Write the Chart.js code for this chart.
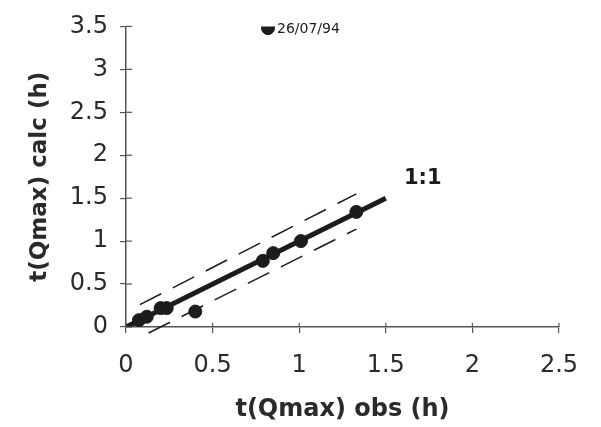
<!DOCTYPE html>
<html>
<head>
<meta charset="utf-8">
<script src="https://cdn.jsdelivr.net/npm/chart.js@4"></script>
<style>
  body { margin: 0; background: #fff; }
  #wrap { width: 601px; height: 427px; }
</style>
</head>
<body>
<div id="wrap"><canvas id="scatterChart"></canvas></div>
<script>
// observed vs calculated time of peak discharge (h)
const obsX = [0.075, 0.12, 0.2, 0.235, 0.40, 0.79, 0.85, 1.01, 1.33];
const calcY = [0.08, 0.12, 0.22, 0.22, 0.18, 0.77, 0.86, 1.0, 1.34];
const outlierX = [0.82];
const outlierY = [3.48];
const outlierLabel = '26/07/94';
const lineX = [0, 1.5];
const lineY = [0, 1.5];
const upperX = [0.08, 1.33];
const upperY = [0.26, 1.55];
const lowerX = [0.13, 1.33];
const lowerY = [-0.07, 1.14];
const xTicks = [0, 0.5, 1, 1.5, 2, 2.5];
const yTicks = [0, 0.5, 1, 1.5, 2, 2.5, 3, 3.5];

const ink = '#1c1c1c';
const axisColor = '#555';

function pts(xs, ys) {
    return xs.map((x, i) => ({ x: x, y: ys[i] }));
}

// short tick marks on the inner side of the axes + text labels
const extras = {
    id: 'extras',
    afterDraw(chart) {
        const ctx = chart.ctx;
        const xs = chart.scales.x, ys = chart.scales.y;
        ctx.save();
        ctx.strokeStyle = axisColor;
        ctx.lineWidth = 1.2;
        xTicks.forEach(v => {
            const px = xs.getPixelForValue(v);
            ctx.beginPath();
            ctx.moveTo(px, ys.bottom);
            ctx.lineTo(px, ys.bottom - 4);
            ctx.stroke();
        });
        yTicks.forEach(v => {
            const py = ys.getPixelForValue(v);
            ctx.beginPath();
            ctx.moveTo(xs.left, py);
            ctx.lineTo(xs.left + 6, py);
            ctx.stroke();
        });

        // date label next to the outlier
        const om = chart.getDatasetMeta(1).data[0];
        ctx.fillStyle = ink;
        ctx.font = '14px "DejaVu Sans"';
        ctx.textBaseline = 'middle';
        ctx.textAlign = 'left';
        ctx.fillText(outlierLabel, om.x + 9, om.y + 1);

        // 1:1 label near the end of the line
        const lm = chart.getDatasetMeta(2).data[1];
        ctx.font = 'bold 21px "DejaVu Sans"';
        ctx.textAlign = 'center';
        ctx.fillText('1:1', lm.x + 37, lm.y - 20);
        ctx.restore();
    }
};

const ctx = document.getElementById('scatterChart').getContext('2d');
const chart = new Chart(ctx, {
    type: 'scatter',
    data: {
        datasets: [{
            label: 'events',
            data: pts(obsX, calcY),
            backgroundColor: ink,
            borderColor: ink,
            pointRadius: 6.5,
            order: 0
        }, {
            label: outlierLabel,
            data: pts(outlierX, outlierY),
            backgroundColor: ink,
            borderColor: ink,
            pointRadius: 6.5,
            order: 0
        }, {
            label: '1:1',
            type: 'line',
            data: pts(lineX, lineY),
            borderColor: ink,
            borderWidth: 5,
            pointRadius: 0,
            order: 1
        }, {
            label: 'upper',
            type: 'line',
            data: pts(upperX, upperY),
            borderColor: ink,
            borderWidth: 1.5,
            borderDash: [24, 13],
            pointRadius: 0,
            order: 2
        }, {
            label: 'lower',
            type: 'line',
            data: pts(lowerX, lowerY),
            borderColor: ink,
            borderWidth: 1.5,
            borderDash: [24, 13],
            pointRadius: 0,
            clip: false,
            order: 2
        }]
    },
    options: {
        responsive: true,
        maintainAspectRatio: false,
        animation: false,
        layout: { padding: { top: 24, right: 42, bottom: 3, left: 0 } },
        plugins: {
            legend: { display: false },
            tooltip: { enabled: false }
        },
        scales: {
            x: {
                type: 'linear',
                min: 0,
                max: 2.5,
                afterFit: s => { s.height = 97; },
                afterBuildTicks: s => { s.ticks = xTicks.map(v => ({ value: v })); },
                ticks: {
                    autoSkip: false,
                    maxRotation: 0,
                    padding: 18,
                    color: '#2a2a2a',
                    font: { family: 'DejaVu Sans', size: 24 },
                    callback: v => String(v)
                },
                grid: { drawOnChartArea: false, drawTicks: true, tickLength: 6, color: axisColor, lineWidth: 1.2 },
                border: { display: true, color: axisColor, width: 1.5 },
                title: {
                    display: true,
                    text: 't(Qmax) obs (h)',
                    color: '#2a2a2a',
                    padding: { top: 0, bottom: 0 },
                    font: { family: 'DejaVu Sans', size: 24, weight: 'bold' }
                }
            },
            y: {
                type: 'linear',
                min: 0,
                max: 3.5,
                afterFit: s => { s.width = 126; },
                afterBuildTicks: s => { s.ticks = yTicks.map(v => ({ value: v })); },
                ticks: {
                    autoSkip: false,
                    padding: 12,
                    color: '#2a2a2a',
                    font: { family: 'DejaVu Sans', size: 24 },
                    callback: v => String(v)
                },
                grid: { drawOnChartArea: false, drawTicks: true, tickLength: 6, color: axisColor, lineWidth: 1.2 },
                border: { display: true, color: axisColor, width: 1.5 },
                title: {
                    display: true,
                    text: 't(Qmax) calc (h)',
                    color: '#2a2a2a',
                    padding: { top: 26, bottom: 0 },
                    font: { family: 'DejaVu Sans', size: 23, weight: 'bold' }
                }
            }
        }
    },
    plugins: [extras]
});
</script>
</body>
</html>
